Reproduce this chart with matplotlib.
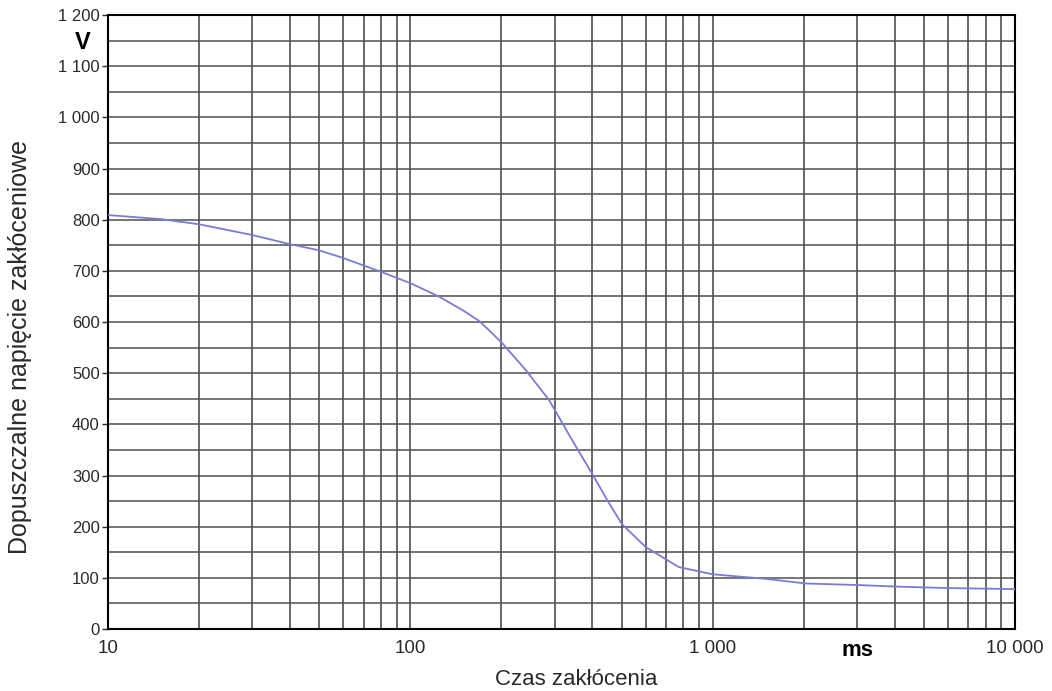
import numpy as np
import matplotlib.pyplot as plt
from matplotlib.ticker import FixedLocator, FuncFormatter

plt.rcParams['font.family'] = ['Liberation Sans', 'DejaVu Sans']

# czas zakłócenia [ms] i dopuszczalne napięcie [V]
czas = [10, 15, 20, 30, 40, 50, 60, 80, 100, 125, 150, 169, 182, 201, 241, 288, 343, 398, 450, 501,
        601, 773, 1000, 1500, 2030, 3000, 4020, 6000, 10000]
napiecie = [809, 801, 791, 770, 752, 740, 725, 698, 676, 649, 622, 602, 584, 559, 506, 447, 369, 305, 250, 205,
            160, 121, 107, 98, 89, 86, 83, 80, 78]

y_ticks = list(range(0, 1201, 100))
x_ticks = [10, 100, 1000, 10000]


def fmt_pl(v, pos=None):
    return f"{int(v):,}".replace(",", " ")


fig = plt.figure(figsize=(10.52, 6.91), dpi=100)
ax = fig.add_axes([0.1027, 0.0897, 0.8621, 0.8886])

ax.set_xscale('log')
ax.set_xlim(10, 10000)
ax.set_ylim(0, 1200)

# siatka
for d in [10, 100, 1000]:
    for m in range(1, 10):
        ax.axvline(d * m, color='#404040', lw=1.1, zorder=1)
for yv in range(0, 1201, 50):
    ax.axhline(yv, color='#505050', lw=1.1, zorder=1)

ax.plot(czas, napiecie, color='#7b7bd4', lw=1.3, zorder=3)

ax.xaxis.set_major_locator(FixedLocator(x_ticks))
ax.xaxis.set_minor_locator(FixedLocator([]))
ax.xaxis.set_major_formatter(FuncFormatter(fmt_pl))
ax.yaxis.set_major_locator(FixedLocator(y_ticks))
ax.yaxis.set_major_formatter(FuncFormatter(fmt_pl))

ax.tick_params(axis='y', direction='out', length=4, width=1, labelsize=12, colors='#2a2a2a', pad=2)
ax.tick_params(axis='x', length=0, labelsize=13.5, colors='#2a2a2a', pad=8)

for s in ax.spines.values():
    s.set_linewidth(1.5)
    s.set_color('black')

# opisy osi
fig.text(0.548, 0.008, 'Czas zakłócenia', fontsize=16, color='#2a2a2a', ha='center', va='baseline')
fig.text(0.019, 0.498, 'Dopuszczalne napięcie zakłóceniowe', fontsize=18, color='#2a2a2a',
         rotation=90, ha='center', va='center')

fig.text(0.079, 0.939, 'V', fontsize=17, fontweight='bold', ha='center', va='center')
fig.text(0.8147, 0.059, 'ms', fontsize=16, fontweight='bold', ha='center', va='center')

fig.savefig('out.png', dpi=100)
